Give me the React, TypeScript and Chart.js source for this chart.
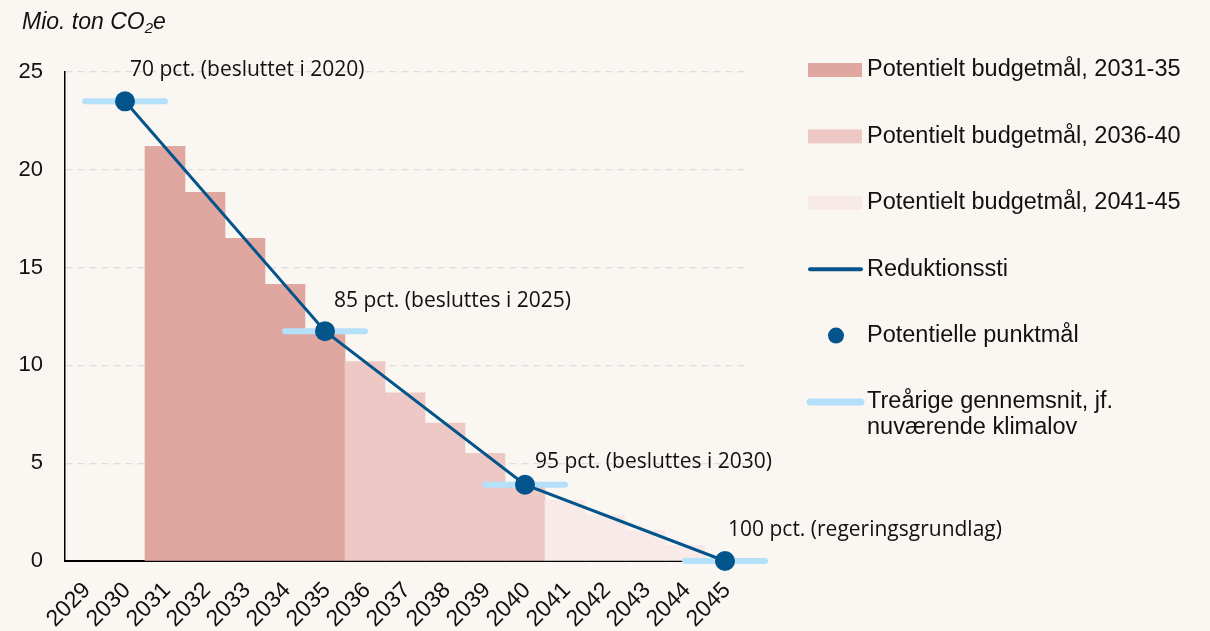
import React, { useEffect, useRef } from 'react';
import { Chart, registerables } from 'chart.js';

Chart.register(...registerables);

// ---------- data ----------
const years = [2029, 2030, 2031, 2032, 2033, 2034, 2035, 2036, 2037, 2038, 2039, 2040, 2041, 2042, 2043, 2044, 2045];

const budget3135Years = [2031, 2032, 2033, 2034, 2035];
const budget3135 = [21.2, 18.85, 16.5, 14.15, 11.75];

const budget3640Years = [2036, 2037, 2038, 2039, 2040];
const budget3640 = [10.2, 8.6, 7.05, 5.5, 3.9];

const budget4145Years = [2041, 2042, 2043, 2044, 2045];
const budget4145 = [3.1, 2.35, 1.55, 0.8, 0];

const targetYears = [2030, 2035, 2040, 2045];
const targetValues = [23.5, 11.75, 3.9, 0];
const targetLabels = [
  '70 pct. (besluttet i 2020)',
  '85 pct. (besluttes i 2025)',
  '95 pct. (besluttes i 2030)',
  '100 pct. (regeringsgrundlag)',
];

const avgStartYears = [2029, 2034, 2039, 2044];
const avgEndYears = [2031, 2036, 2041, 2046];
const avgValues = [23.5, 11.75, 3.9, 0];

const yTicks = [0, 5, 10, 15, 20, 25];

const seriesNames = [
  'Potentielt budgetmål, 2031-35',
  'Potentielt budgetmål, 2036-40',
  'Potentielt budgetmål, 2041-45',
  'Reduktionssti',
  'Potentielle punktmål',
  'Treårige gennemsnit, jf.\nnuværende klimalov',
];
const yAxisTitle = ['Mio. ton CO', '2', 'e'];

// ---------- styles ----------
const BG = '#faf6f1';
const C_BAR1 = '#e0a6a0';
const C_BAR2 = '#edc8c4';
const C_BAR3 = '#f8eae8';
const C_LINE = '#03548a';
const C_AVG = '#b5e0f9';
const SANS = '"Liberation Sans", Arial, sans-serif';
const NOTE_FONT = '"Open Sans", sans-serif';

const toXY = (xs: number[], ys: number[]) => xs.map((x, i) => ({ x, y: ys[i] }));

function buildAvgData() {
  const out: { x: number; y: number | null }[] = [];
  avgStartYears.forEach((s, i) => {
    out.push({ x: s, y: avgValues[i] });
    out.push({ x: avgEndYears[i], y: avgValues[i] });
    if (i < avgStartYears.length - 1) out.push({ x: avgEndYears[i] + 0.5, y: null });
  });
  return out;
}

const noteOffsets = [
  [5, -31],
  [9, -30],
  [10, -23],
  [3, -31],
];

const notesPlugin = {
  id: 'notes',
  afterDatasetsDraw(chart: any) {
    const { ctx, scales } = chart;
    const xs = scales.x;
    const ys = scales.y;
    ctx.save();
    ctx.font = `21px ${NOTE_FONT}`;
    ctx.fillStyle = '#111';
    ctx.textBaseline = 'middle';
    ctx.textAlign = 'left';
    targetYears.forEach((yr, i) => {
      const px = xs.getPixelForValue(yr);
      const py = ys.getPixelForValue(targetValues[i]);
      ctx.fillText(targetLabels[i], px + noteOffsets[i][0], py + noteOffsets[i][1]);
    });
    ctx.restore();
  },
};

const titlePlugin = {
  id: 'unitTitle',
  afterDraw(chart: any) {
    const { ctx } = chart;
    ctx.save();
    ctx.fillStyle = '#111';
    ctx.textBaseline = 'alphabetic';
    ctx.textAlign = 'left';
    let x = 22;
    const base = 28.5;
    ctx.font = `italic 23px ${SANS}`;
    ctx.fillText(yAxisTitle[0], x, base);
    x += ctx.measureText(yAxisTitle[0]).width;
    ctx.font = `italic 15px ${SANS}`;
    ctx.fillText(yAxisTitle[1], x, base + 4);
    x += ctx.measureText(yAxisTitle[1]).width;
    ctx.font = `italic 23px ${SANS}`;
    ctx.fillText(yAxisTitle[2], x, base);
    ctx.restore();
  },
};

const legendKinds = ['box', 'box', 'box', 'line', 'point', 'wide'];

const sideLegendPlugin = {
  id: 'sideLegend',
  afterDraw(chart: any) {
    const { ctx } = chart;
    const ds = chart.data.datasets;
    const left = 808;
    const boxW = 54;
    const textX = 867;
    const top = 70;
    const step = 66.4;
    ctx.save();
    ctx.font = `23.5px ${SANS}`;
    ctx.textBaseline = 'middle';
    ctx.textAlign = 'left';
    legendKinds.forEach((kind, i) => {
      const d = ds[i];
      const cy = top + i * step;
      if (kind === 'box') {
        ctx.fillStyle = d.backgroundColor;
        ctx.fillRect(left, cy - 7, boxW, 14);
      } else if (kind === 'line') {
        ctx.strokeStyle = d.borderColor;
        ctx.lineWidth = 4;
        ctx.lineCap = 'round';
        ctx.beginPath();
        ctx.moveTo(left + 2, cy);
        ctx.lineTo(left + boxW - 1, cy);
        ctx.stroke();
      } else if (kind === 'point') {
        ctx.fillStyle = d.backgroundColor;
        ctx.beginPath();
        ctx.arc(left + 28, cy, 8, 0, Math.PI * 2);
        ctx.fill();
      } else {
        ctx.strokeStyle = d.borderColor;
        ctx.lineWidth = 7;
        ctx.lineCap = 'round';
        ctx.beginPath();
        ctx.moveTo(left + 2, cy);
        ctx.lineTo(left + boxW - 1, cy);
        ctx.stroke();
      }
      ctx.fillStyle = '#111';
      const lines = String(d.label).split('\n');
      lines.forEach((ln, j) => ctx.fillText(ln, textX, cy + j * 26));
    });
    ctx.restore();
  },
};

export default function App() {
  const ref = useRef<HTMLCanvasElement | null>(null);

  useEffect(() => {
    if (!ref.current) return;
    const chart = new Chart(ref.current, {
      type: 'bar',
      data: {
        datasets: [
          {
            type: 'bar',
            label: seriesNames[0],
            data: toXY(budget3135Years, budget3135),
            backgroundColor: C_BAR1,
            borderWidth: 0,
            grouped: false,
            barPercentage: 1,
            categoryPercentage: 1,
            order: 5,
          },
          {
            type: 'bar',
            label: seriesNames[1],
            data: toXY(budget3640Years, budget3640),
            backgroundColor: C_BAR2,
            borderWidth: 0,
            grouped: false,
            barPercentage: 1,
            categoryPercentage: 1,
            order: 4,
          },
          {
            type: 'bar',
            label: seriesNames[2],
            data: toXY(budget4145Years, budget4145),
            backgroundColor: C_BAR3,
            borderWidth: 0,
            grouped: false,
            barPercentage: 1,
            categoryPercentage: 1,
            order: 3,
          },
          {
            type: 'line',
            label: seriesNames[3],
            data: toXY(targetYears, targetValues),
            borderColor: C_LINE,
            backgroundColor: C_LINE,
            borderWidth: 3,
            pointRadius: 0,
            tension: 0,
            clip: false,
            order: 1,
          },
          {
            type: 'line',
            label: seriesNames[4],
            data: toXY(targetYears, targetValues),
            showLine: false,
            borderColor: C_LINE,
            backgroundColor: C_LINE,
            pointRadius: 10,
            pointBorderWidth: 0,
            clip: false,
            order: 0,
          },
          {
            type: 'line',
            label: seriesNames[5],
            data: buildAvgData(),
            borderColor: C_AVG,
            backgroundColor: C_AVG,
            borderWidth: 6,
            borderCapStyle: 'round',
            pointRadius: 0,
            spanGaps: false,
            clip: false,
            order: 2,
          },
        ] as any,
      },
      options: {
        animation: false,
        responsive: true,
        maintainAspectRatio: false,
        layout: { padding: { top: 72, right: 465, bottom: 0, left: 0 } },
        plugins: {
          legend: { display: false },
          tooltip: { enabled: false },
          title: { display: false },
        },
        scales: {
          x: {
            type: 'linear',
            offset: false,
            min: 2028.5,
            max: 2045.5,
            afterBuildTicks: (s: any) => {
              s.ticks = years.map((v) => ({ value: v }));
            },
            ticks: {
              autoSkip: false,
              minRotation: 45,
              maxRotation: 45,
              padding: 16,
              labelOffset: 2,
              color: '#111',
              font: { family: SANS, size: 23 },
              callback: (v: any) => String(v),
            },
            grid: { display: false, drawTicks: false, offset: false },
            border: { display: true, color: '#000', width: 2 },
            afterFit: (s: any) => {
              s.height = 70;
            },
          },
          y: {
            type: 'linear',
            min: 0,
            max: 25,
            afterBuildTicks: (s: any) => {
              s.ticks = yTicks.map((v) => ({ value: v }));
            },
            ticks: {
              padding: 22,
              color: '#111',
              font: { family: SANS, size: 22 },
            },
            grid: {
              color: (c: any) => (c.tick && c.tick.value === 0 ? 'rgba(0,0,0,0)' : '#dedede'),
              lineWidth: 1.2,
              drawTicks: false,
            },
            border: { display: true, color: '#000', width: 1.5, dash: [7, 5] },
            afterFit: (s: any) => {
              s.width = 65;
            },
          },
        },
      } as any,
      plugins: [notesPlugin, titlePlugin, sideLegendPlugin],
    });
    return () => chart.destroy();
  }, []);

  return (
    <div style={{ position: 'fixed', left: 0, top: 0, width: 1210, height: 631, background: BG }}>
      <canvas ref={ref} />
    </div>
  );
}
